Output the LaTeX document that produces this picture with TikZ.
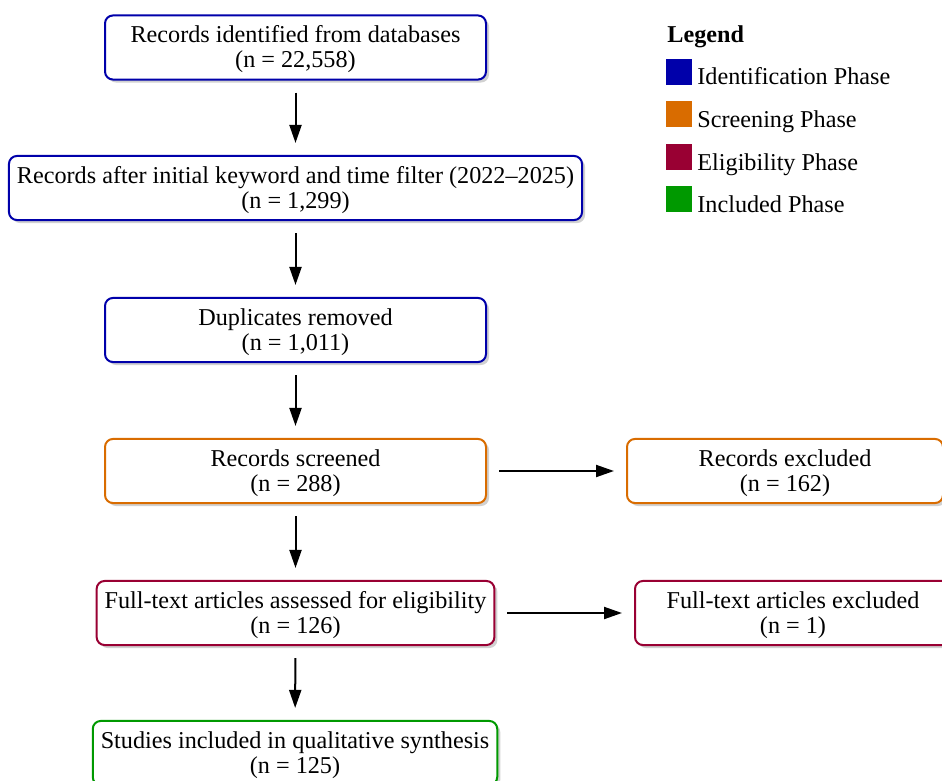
\documentclass[tikz,border=0pt]{standalone}
\usepackage{fontspec}
\setmainfont{Liberation Serif}
\usetikzlibrary{shadows,arrows.meta}
\definecolor{idblue}{RGB}{0,0,170}
\definecolor{scrorange}{RGB}{217,108,0}
\definecolor{elimaroon}{RGB}{153,0,51}
\definecolor{incgreen}{RGB}{0,153,0}
\newcommand\mytopstrut{\rule{0pt}{10.3pt}}
\tikzset{
  phasebox/.style={draw, line width=1pt, rounded corners=4pt, fill=white, align=center,
    font=\fontsize{12.1}{12.5}\selectfont, inner xsep=4pt, minimum height=31pt,
    drop shadow={shadow xshift=1.5pt, shadow yshift=-1.5pt, fill=black!18, opacity=1}},
  flow/.style={line width=1pt, -{Triangle[length=9pt,width=6pt]}, shorten <=6pt, shorten >=6pt},
  legsq/.style={fill=#1, draw=none},
  leglabel/.style={anchor=base west, inner sep=0pt, font=\fontsize{12.1}{12.5}\selectfont}
}
\begin{document}
\begin{tikzpicture}[x=0.5pt,y=-0.5pt]
\useasboundingbox (0,0) rectangle (942,781);
\node[phasebox, draw=idblue, minimum width=190.5pt] (b1) at (295.5,47.5) {\mytopstrut Records identified from databases\\(n = 22,558)};
\node[phasebox, draw=idblue] (b2) at (295.5,188) {\mytopstrut Records after initial keyword and time filter (2022--2025)\\(n = 1,299)};
\node[phasebox, draw=idblue, minimum width=190.5pt] (b3) at (295.5,330) {\mytopstrut Duplicates removed\\(n = 1,011)};
\node[phasebox, draw=scrorange, minimum width=190.5pt] (b4) at (295.5,471) {\mytopstrut Records screened\\(n = 288)};
\node[phasebox, draw=scrorange, minimum width=158pt] (b5) at (785,471) {\mytopstrut Records excluded\\(n = 162)};
\node[phasebox, draw=elimaroon] (b6) at (295.5,613) {\mytopstrut Full-text articles assessed for eligibility\\(n = 126)};
\node[phasebox, draw=elimaroon, minimum width=158pt] (b7) at (793,613) {\mytopstrut Full-text articles excluded\\(n = 1)};
\node[phasebox, draw=incgreen] (b8) at (295,753) {\mytopstrut Studies included in qualitative synthesis\\(n = 125)};
\draw[flow] (b1) -- (b2);
\draw[flow] (b2) -- (b3);
\draw[flow] (b3) -- (b4);
\draw[flow] (b4) -- (b6);
\draw[flow] (b6) -- (b8);
\draw[flow] (b4) -- (b5);
\draw[flow] (b6) -- (b7);
\node[leglabel, font=\fontsize{12.1}{12.5}\selectfont\bfseries] (legt) at (667,42.5) {Legend};
\fill[legsq=idblue] (666,59) rectangle (692,85);
\node[leglabel] (l1) at (697,85) {Identification Phase};
\fill[legsq=scrorange] (666,101) rectangle (692,127);
\node[leglabel] (l2) at (697,127) {Screening Phase};
\fill[legsq=elimaroon] (666,144) rectangle (692,170);
\node[leglabel] (l3) at (697,170) {Eligibility Phase};
\fill[legsq=incgreen] (666,186) rectangle (692,212);
\node[leglabel] (l4) at (697,212) {Included Phase};
\end{tikzpicture}
\end{document}
